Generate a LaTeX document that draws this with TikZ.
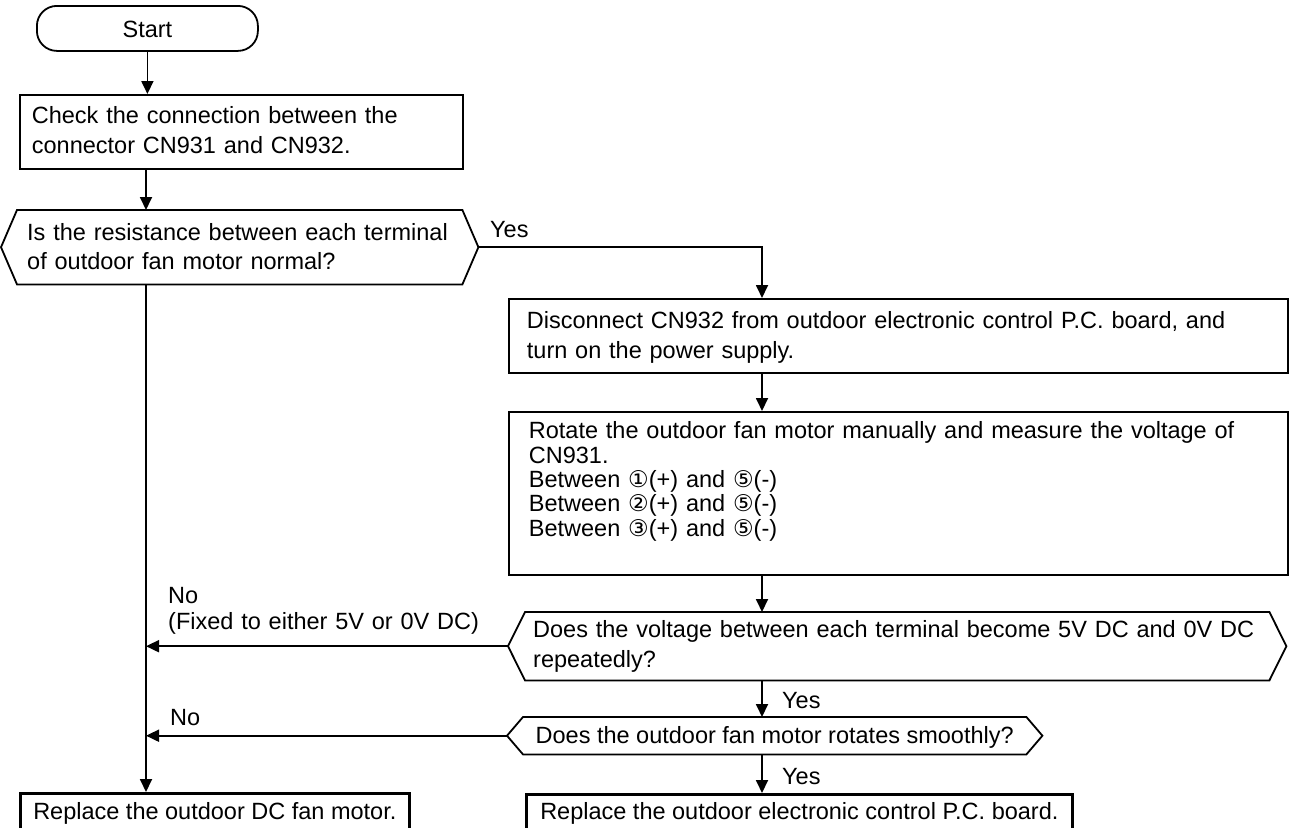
\documentclass[tikz,border=0pt]{standalone}
\usepackage{fontspec}
\setmainfont{Liberation Sans}
\newfontfamily\symfont{DejaVu Sans}
\usetikzlibrary{arrows.meta}

\newcommand{\cnum}[1]{{\symfont\fontsize{23}{24.3}\selectfont #1}}
\newcommand{\hexframe}[2]{%
  \draw[plain] (#1.north west) -- (#1.north east) -- ([xshift=#2]#1.east)
    -- (#1.south east) -- (#1.south west) -- ([xshift=-#2]#1.west) -- cycle;}

\begin{document}
\begin{tikzpicture}[
    x=1pt, y=-1pt,
    every node/.style={font=\fontsize{23.5}{29.5}\selectfont},
    startbox/.style={draw, line width=1.8pt, rounded corners=20pt, anchor=north west, minimum width=221pt, minimum height=45pt, inner sep=0pt, text height=17.5pt, text depth=0pt},
    box/.style={draw, line width=1.8pt, anchor=north west, inner ysep=0pt, align=left},
    decision/.style={anchor=north west, inner ysep=0pt, align=left},
    final/.style={draw, line width=2.7pt, anchor=north west, inner ysep=0pt},
    tagtext/.style={anchor=base west, inner sep=0pt},
    arrow/.style={-{Triangle[length=13pt, width=12pt]}, line width=1.8pt},
    plain/.style={line width=1.8pt}
]
    \useasboundingbox (0,0) rectangle (1289,827);
    \clip (0,0) rectangle (1289,827);

    \node[startbox] (start) at (36,5) {Start};
    \node[box, inner xsep=12pt, text width=419pt, text height=29pt, text depth=45pt] (check) at (19,94)
        {Check the connection between the\\connector CN931 and CN932.};
    \node[decision, inner xsep=10pt, text width=425pt, text height=30pt, text depth=44pt] (resist) at (17,210)
        {Is the resistance between each terminal\\of outdoor fan motor normal?};
    \node[box, inner xsep=18pt, text width=743pt, text height=30pt, text depth=44pt] (unplug) at (508,298)
        {Disconnect CN932 from outdoor electronic control P.C. board, and\\turn on the power supply.};
    \node[box, inner xsep=20pt, text width=739pt, text height=27pt, text depth=136pt, font=\fontsize{23.5}{24.3}\selectfont] (measure) at (508,411)
        {Rotate the outdoor fan motor manually and measure the voltage of\\CN931.\\
         Between \cnum{①}(+) and \cnum{⑤}(-)\\Between \cnum{②}(+) and \cnum{⑤}(-)\\Between \cnum{③}(+) and \cnum{⑤}(-)};
    \node[decision, inner xsep=8pt, text width=728pt, text height=25pt, text depth=43pt, font=\fontsize{23.5}{30}\selectfont] (pulse) at (525,612)
        {Does the voltage between each terminal become 5V DC and 0V DC\\repeatedly?};
    \node[decision, inner xsep=10pt, minimum width=503pt, text height=26pt, text depth=11pt] (smooth) at (523,717)
        {Does the outdoor fan motor rotates smoothly?};
    \node[final, inner xsep=10pt, minimum width=389pt, text height=26pt, text depth=32pt] (fanmotor) at (19,792)
        {Replace the outdoor DC fan motor.};
    \node[final, inner xsep=10pt, minimum width=546pt, text height=25pt, text depth=32pt] (pcboard) at (525,793)
        {Replace the outdoor electronic control P.C. board.};

    \hexframe{resist}{16pt}
    \hexframe{pulse}{17pt}
    \hexframe{smooth}{16pt}

    \coordinate (spine) at (146,0);
    \coordinate (col) at (762,0);
    \coordinate (resist-e) at ([xshift=16pt]resist.east);
    \coordinate (pulse-w) at ([xshift=-17pt]pulse.west);
    \coordinate (smooth-w) at ([xshift=-16pt]smooth.west);

    \draw[arrow] (start.south) -- (start.south |- check.north);
    \draw[arrow] (check.south -| spine) -- (resist.north -| spine);
    \draw[arrow] (resist.south -| spine) -- (fanmotor.north -| spine);
    \draw[arrow] (resist-e) -| (unplug.north -| col);
    \draw[arrow] (unplug.south -| col) -- (measure.north -| col);
    \draw[arrow] (measure.south -| col) -- (pulse.north -| col);
    \draw[arrow] (pulse.south -| col) -- (smooth.north -| col);
    \draw[arrow] (smooth.south -| col) -- (pcboard.north -| col);
    \draw[arrow] (pulse-w) -- (pulse-w -| spine);
    \draw[arrow] (smooth-w) -- (smooth-w -| spine);

    \node[tagtext] (yes1) at (490,237) {Yes};
    \node[tagtext, text width=330pt, align=left, font=\fontsize{23.5}{26}\selectfont] (no1) at (168,603)
        {No\\(Fixed to either 5V or 0V DC)};
    \node[tagtext] (no2) at (170,725) {No};
    \node[tagtext] (yes2) at (782,708) {Yes};
    \node[tagtext] (yes3) at (782,784) {Yes};
\end{tikzpicture}
\end{document}
